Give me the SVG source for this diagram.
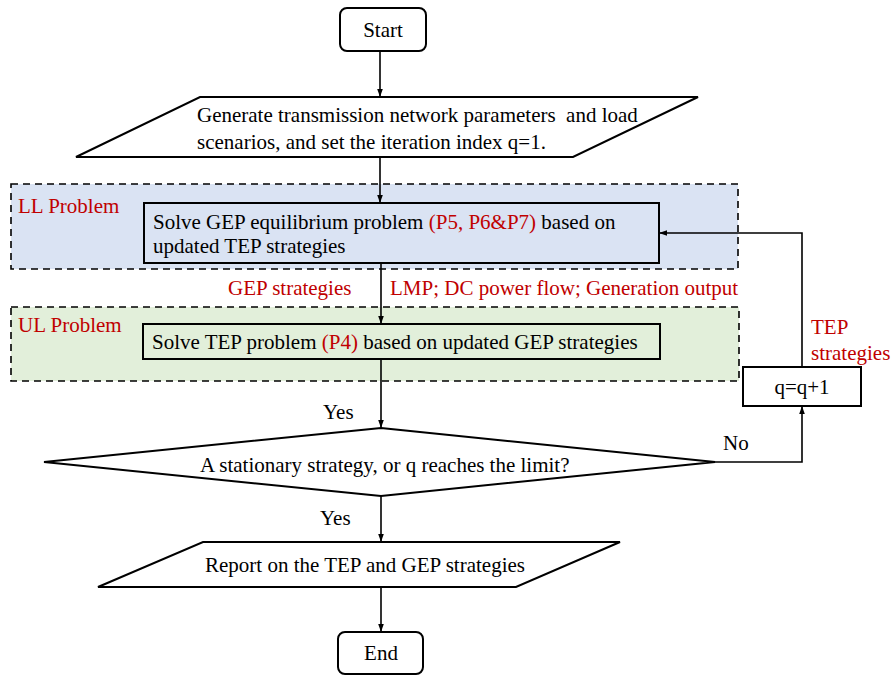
<svg xmlns="http://www.w3.org/2000/svg" width="893" height="675" viewBox="0 0 893 675" font-family="Liberation Serif" font-size="21">
  <style>
    text { font-family: 'Liberation Serif', 'Times New Roman', serif; font-size: 21px; fill: #000; }
    .red { fill: #c00000; }
    .shape { fill: #fff; stroke: #000; stroke-width: 2; }
    .region { stroke: #000; stroke-width: 1.6; stroke-dasharray: 7 5; }
    .link { fill: none; stroke: #000; stroke-width: 1.6; marker-end: url(#head); }
    .mid { text-anchor: middle; }
  </style>
  <defs>
    <marker id="head" viewBox="0 0 10 10" refX="10" refY="5" markerWidth="8" markerHeight="8" markerUnits="userSpaceOnUse" orient="auto">
      <path d="M0,1.5 L10,5 L0,8.5 Z" fill="#000"/>
    </marker>
  </defs>

  <rect width="893" height="675" fill="#fff"/>

  <!-- Level regions (dashed frames) -->
  <g id="ll-region">
    <rect class="region" x="11" y="184" width="727" height="85" fill="#dae3f3"/>
    <text class="red" x="18" y="213">LL Problem</text>
  </g>
  <g id="ul-region">
    <rect class="region" x="11" y="307" width="728" height="74" fill="#e2efda"/>
    <text class="red" x="18" y="332">UL Problem</text>
  </g>

  <!-- Connectors and their labels -->
  <g id="connectors">
    <path class="link" d="M380,51 V97"/>
    <path class="link" d="M380,157 V203"/>
    <path class="link" d="M381,263 V324"/>
    <path class="link" d="M381,359 V428"/>
    <path class="link" d="M381,496 V542"/>
    <path class="link" d="M381,587 V632"/>
    <path class="link" d="M715,462 H802 V406"/>
    <path class="link" d="M802,367 V233 H659"/>
    <text x="323" y="419">Yes</text>
    <text x="320" y="525">Yes</text>
    <text x="723" y="450">No</text>
    <text class="red" x="228" y="295">GEP strategies</text>
    <text class="red" x="390" y="295">LMP; DC power flow; Generation output</text>
    <text class="red" x="811" y="334">TEP</text>
    <text class="red" x="811" y="360">strategies</text>
  </g>

  <!-- Nodes -->
  <g id="start">
    <rect class="shape" x="340" y="8" width="86" height="43" rx="7"/>
    <text class="mid" x="383" y="37">Start</text>
  </g>

  <g id="init">
    <polygon class="shape" points="200,97 698,97 573,157 76,157"/>
    <text x="197" y="122" xml:space="preserve">Generate transmission network parameters  and load</text>
    <text x="197" y="149">scenarios, and set the iteration index q=1.</text>
  </g>

  <g id="solve-gep">
    <rect class="shape" x="144" y="203" width="515" height="60" style="fill:#dae3f3"/>
    <text x="153" y="229">Solve GEP equilibrium problem <tspan class="red">(P5, P6&amp;P7)</tspan> based on</text>
    <text x="153" y="253">updated TEP strategies</text>
  </g>

  <g id="solve-tep">
    <rect class="shape" x="143" y="324" width="517" height="35" style="fill:#e2efda"/>
    <text x="152" y="349">Solve TEP problem <tspan class="red">(P4)</tspan> based on updated GEP strategies</text>
  </g>

  <g id="check">
    <polygon class="shape" points="381,428 715,462 381,496 44,462"/>
    <text x="200" y="472">A stationary strategy, or q reaches the limit?</text>
  </g>

  <g id="increment">
    <rect class="shape" x="743" y="367" width="118" height="39"/>
    <text class="mid" x="802" y="394">q=q+1</text>
  </g>

  <g id="report">
    <polygon class="shape" points="203,542 620,542 516,587 98,587"/>
    <text x="205" y="572">Report on the TEP and GEP strategies</text>
  </g>

  <g id="end">
    <rect class="shape" x="338" y="632" width="85" height="42" rx="7"/>
    <text class="mid" x="381" y="660">End</text>
  </g>
</svg>
